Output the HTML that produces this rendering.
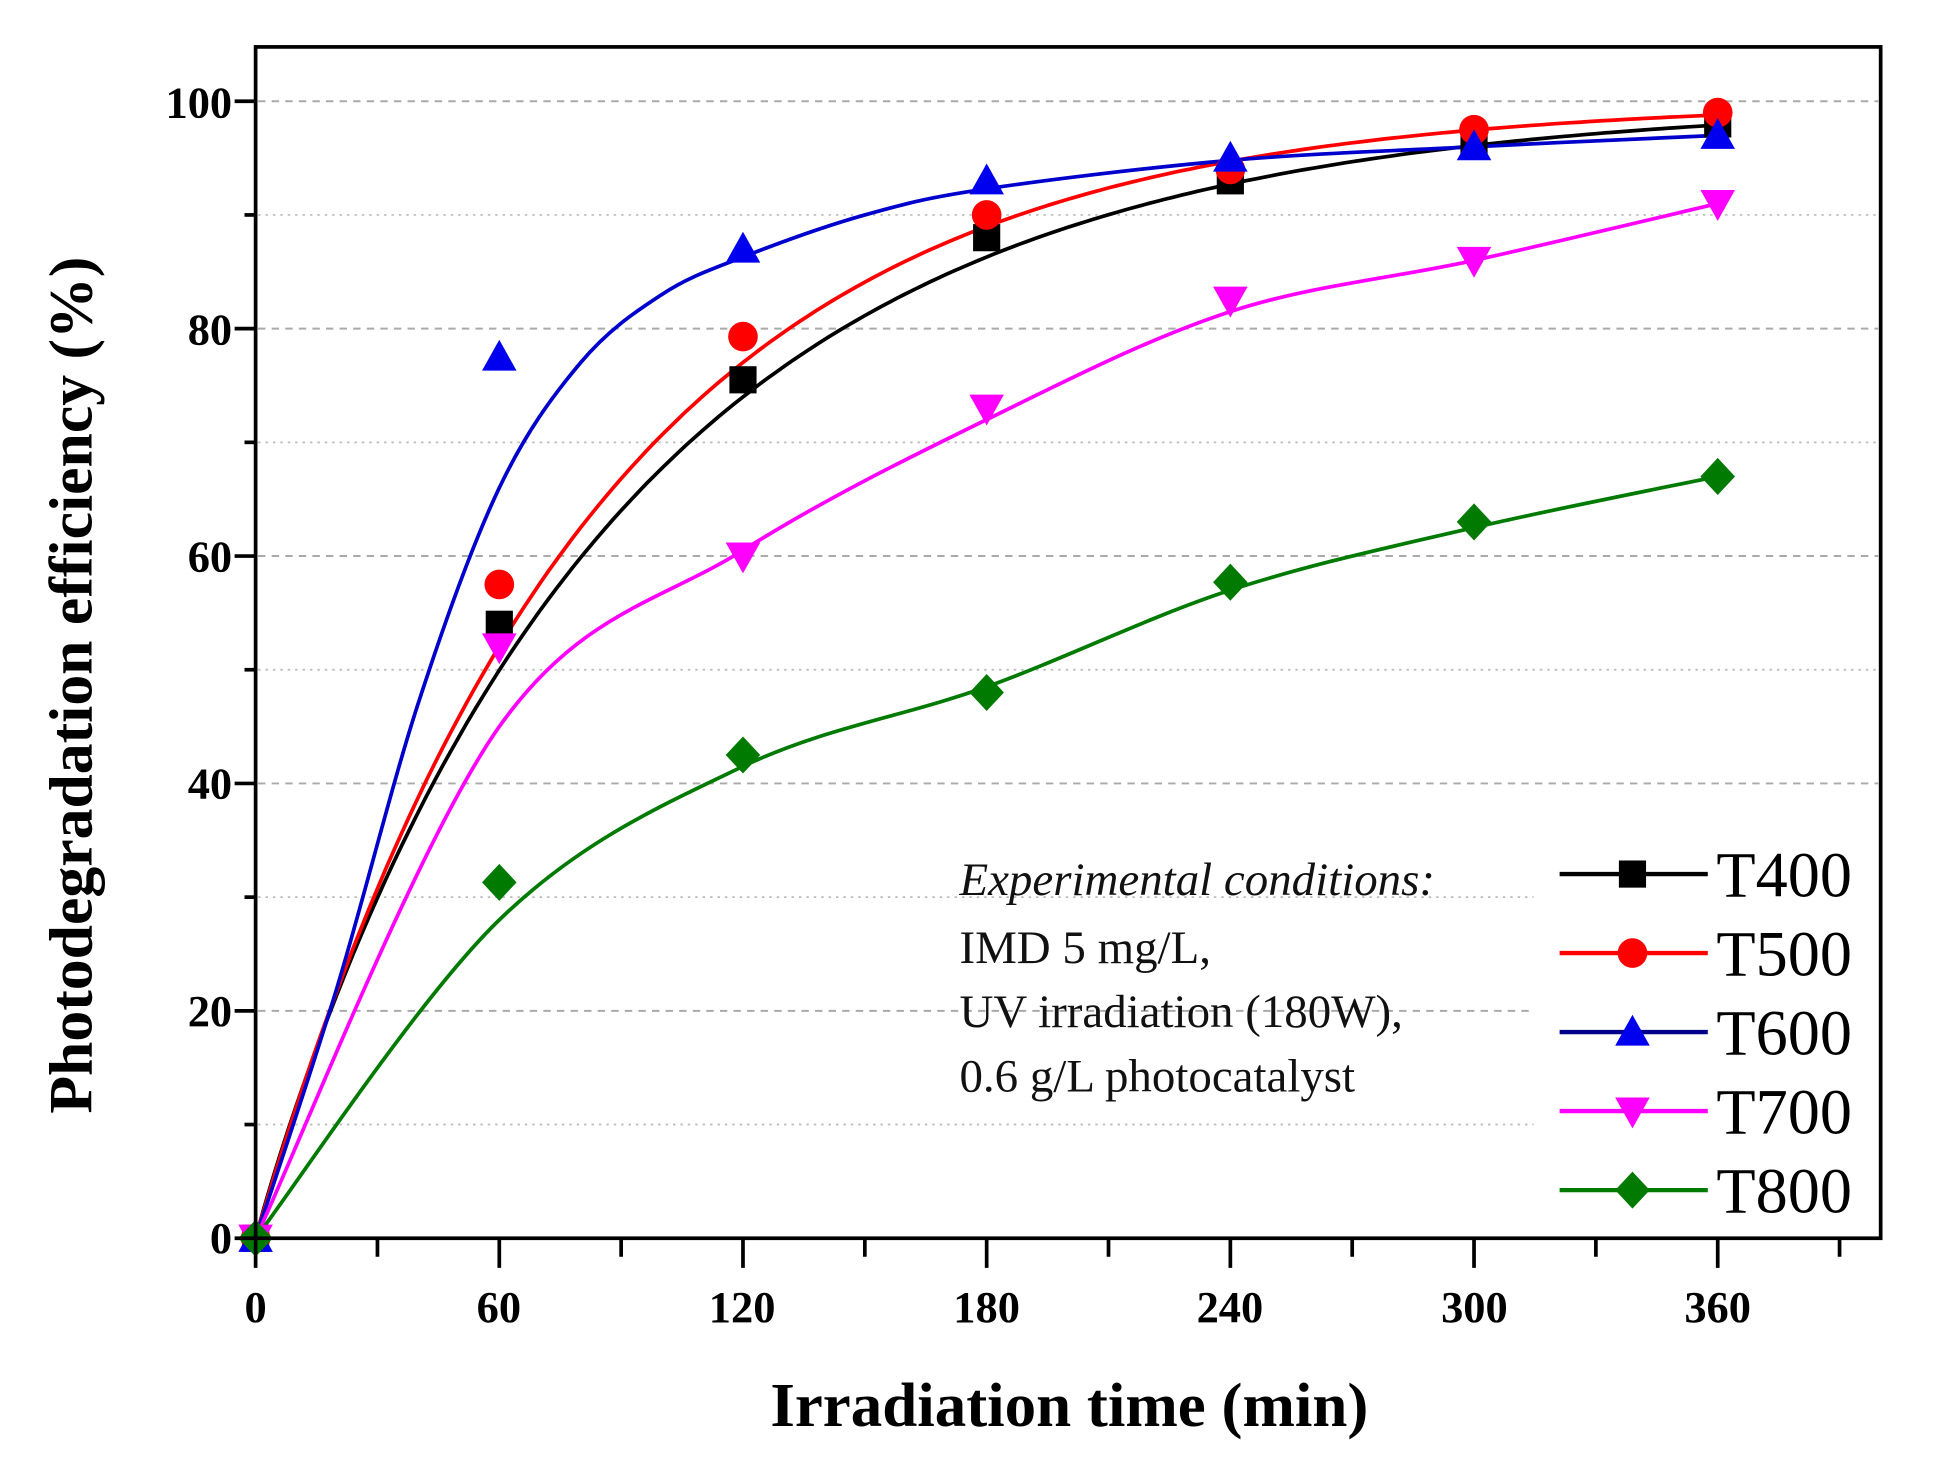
<!DOCTYPE html>
<html><head><meta charset="utf-8"><style>
html,body{margin:0;padding:0;background:#fff}
svg{display:block}
</style></head><body>
<svg id="s" width="1935" height="1458" viewBox="0 0 1567 1181" preserveAspectRatio="none" xmlns="http://www.w3.org/2000/svg">
<rect width="1567" height="1181" fill="#fff"/>
<g id="grid"></g>
<g id="curves" fill="none" stroke-width="3"></g>
<g id="marks"></g>
<rect x="1242" y="682" width="279" height="319" fill="#fff"/>
<rect x="207" y="38" width="1316" height="965" fill="none" stroke="#000" stroke-width="3"/>
<g id="ticks" stroke="#000" stroke-width="3"></g>
<g font-family="Liberation Serif, serif" font-weight="bold" font-size="36" fill="#000" text-anchor="end">
<text x="188" y="95">100</text><text x="188" y="279">80</text><text x="188" y="463">60</text>
<text x="188" y="647">40</text><text x="188" y="831">20</text><text x="188" y="1015">0</text>
</g>
<g font-family="Liberation Serif, serif" font-weight="bold" font-size="36" fill="#000" text-anchor="middle">
<text x="207" y="1071">0</text><text x="404" y="1071">60</text><text x="601" y="1071">120</text>
<text x="799" y="1071">180</text><text x="996" y="1071">240</text><text x="1194" y="1071">300</text><text x="1391" y="1071">360</text>
</g>
<text x="866" y="1155" font-family="Liberation Serif, serif" font-weight="bold" font-size="51" text-anchor="middle">Irradiation time (min)</text>
<text transform="translate(74,555) rotate(-90)" font-family="Liberation Serif, serif" font-weight="bold" font-size="50" text-anchor="middle">Photodegradation efficiency (%)</text>
<g font-family="Liberation Serif, serif" font-size="38" fill="#111">
<text x="777" y="725" font-style="italic">Experimental conditions:</text>
<text x="777" y="780">IMD 5 mg/L,</text>
<text x="777" y="832">UV irradiation (180W),</text>
<text x="777" y="884">0.6 g/L photocatalyst</text>
</g>
<g id="legend" font-family="Liberation Serif, serif" font-size="52" fill="#000"></g>
</svg>
<script>
const NS="http://www.w3.org/2000/svg";
const X=t=>207+t*3.289, Y=v=>1003-v*9.21;
function el(p,tag,a){const e=document.createElementNS(NS,tag);for(const k in a)e.setAttribute(k,a[k]);p.appendChild(e);return e;}
const grid=document.getElementById('grid'), ticks=document.getElementById('ticks');
for(let v=10;v<=100;v+=10){const maj=v%20==0;
 el(grid,'line',{x1:209,x2:1521,y1:Y(v),y2:Y(v),stroke:maj?'#aaa':'#bbb','stroke-width':maj?1.6:1.4,'stroke-dasharray':maj?'6,5':'2,4'});}
for(let v=0;v<=100;v+=10){el(ticks,'line',{x1:v%20==0?190:198,x2:207,y1:Y(v),y2:Y(v)});}
for(let t=0;t<=390;t+=30){el(ticks,'line',{x1:X(t),x2:X(t),y1:1003,y2:t%60==0?1027:1018});}
const cur=document.getElementById('curves');
function fn(A,tau,n){return t=>A*(1-Math.exp(-Math.pow(t/tau,n)));}
function fpath(f,col){let d='';for(let t=0;t<=360;t+=2){d+=(t?'L':'M')+X(t).toFixed(1)+','+Y(f(t)).toFixed(1);}el(cur,'path',{d,stroke:col});}
function cr(pts,col){const P=pts.map(p=>[X(p[0]),Y(p[1])]);let d='M'+P[0];for(let i=0;i<P.length-1;i++){const p0=P[Math.max(0,i-1)],p1=P[i],p2=P[i+1],p3=P[Math.min(P.length-1,i+2)];
 const c1=[p1[0]+(p2[0]-p0[0])/6,p1[1]+(p2[1]-p0[1])/6],c2=[p2[0]-(p3[0]-p1[0])/6,p2[1]-(p3[1]-p1[1])/6];d+='C'+c1+' '+c2+' '+p2;}el(cur,'path',{d,stroke:col});}
fpath(fn(100,88,0.96),'#000');
fpath(fn(100,81.6,1.0),'#f00');
cr([[0,0],[20,22],[40,47],[60,66],[80,77],[100,83],[120,86.3],[150,90],[180,92.3],[240,94.8],[300,96],[360,97]],'#0000cc');
cr([[0,0],[60,45],[120,60.5],[180,72],[240,81.5],[300,86],[360,91]],'#ff00ff');
cr([[0,0],[60,28],[120,41.5],[180,48.5],[240,57],[300,62.5],[360,67]],'#007a00');
const mk=document.getElementById('marks');
function marker(p,type,x,y){const s=11;
 if(type=='sq')el(p,'rect',{x:x-s,y:y-s,width:2*s,height:2*s,fill:'#000'});
 if(type=='ci')el(p,'circle',{cx:x,cy:y,r:s+1,fill:'#f00'});
 if(type=='up')el(p,'polygon',{points:`${x},${y-14} ${x-14},${y+11} ${x+14},${y+11}`,fill:'#0000ee'});
 if(type=='dn')el(p,'polygon',{points:`${x},${y+14} ${x-14},${y-11} ${x+14},${y-11}`,fill:'#ff00ff'});
 if(type=='di')el(p,'polygon',{points:`${x},${y-15} ${x+14},${y} ${x},${y+15} ${x-14},${y}`,fill:'#007a00'});}
const T=[0,60,120,180,240,300,360];
const D={sq:[0,54,75.5,88,93,96.5,98],ci:[0,57.5,79.3,90,94,97.5,99],up:[0,77.5,87,93,95,96,97],dn:[0,52,60,73,82.5,86,91],di:[0,31.3,42.5,48,57.7,63,67]};
for(const k in D)D[k].forEach((v,i)=>marker(mk,k,X(T[i]),Y(v)));
const lg=document.getElementById('legend');
[['sq','#000','T400'],['ci','#f00','T500'],['up','#00008b','T600'],['dn','#ff00ff','T700'],['di','#007a00','T800']].forEach((r,i)=>{
 const y=708+i*64;el(lg,'line',{x1:1263,x2:1383,y1:y,y2:y,stroke:r[1],'stroke-width':3.5});marker(lg,r[0],1322,y);
 const t=el(lg,'text',{x:1390,y:y+18});t.textContent=r[2];});
</script>
</body></html>
